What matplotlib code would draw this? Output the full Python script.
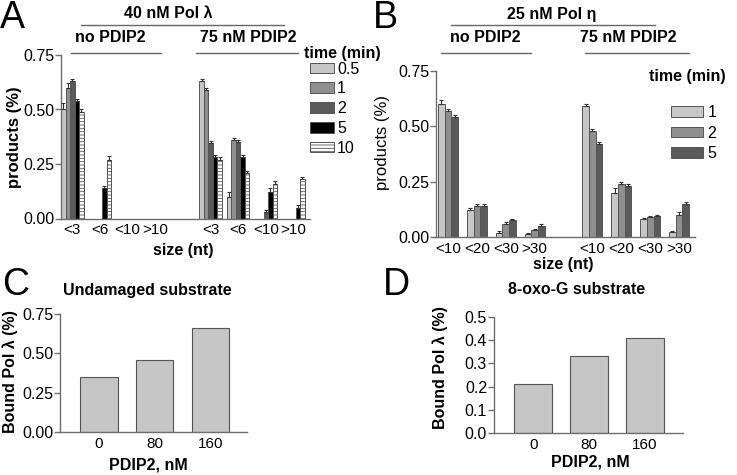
import numpy as np
import matplotlib

matplotlib.use("Agg")
import matplotlib.pyplot as plt
from matplotlib.lines import Line2D

plt.rcParams["font.family"] = ["Liberation Sans", "DejaVu Sans"]
plt.rcParams["hatch.linewidth"] = 0.6

W, H = 737, 475

# --- panel A: 40 nM Pol lambda, products per size class ---
a_times = ["0.5", "1", "2", "5", "10"]
a_sizes = ["<3", "<6", "<10", ">10", "<3", "<6", "<10", ">10"]
a_t05 = [0.50, 0, 0, 0, 0.63, 0.10, 0, 0]
a_t1 = [0.60, 0, 0, 0, 0.59, 0.36, 0, 0]
a_t2 = [0.63, 0, 0, 0, 0.345, 0.35, 0.03, 0]
a_t5 = [0.54, 0.14, 0, 0, 0.28, 0.28, 0.12, 0.05]
a_t10 = [0.49, 0.27, 0, 0, 0.27, 0.21, 0.16, 0.18]
a_e05 = [0.03, 0, 0, 0, 0.01, 0.02, 0, 0]
a_e1 = [0.02, 0, 0, 0, 0.01, 0.01, 0, 0]
a_e2 = [0.01, 0, 0, 0, 0.01, 0.01, 0.01, 0]
a_e5 = [0.01, 0.01, 0, 0, 0.01, 0.01, 0.02, 0.01]
a_e10 = [0.01, 0.015, 0, 0, 0.01, 0.01, 0.01, 0.01]

# --- panel B: 25 nM Pol eta ---
b_times = ["1", "2", "5"]
b_sizes = ["<10", "<20", "<30", ">30", "<10", "<20", "<30", ">30"]
b_t1 = [0.60, 0.12, 0.02, 0.015, 0.59, 0.20, 0.08, 0.023]
b_t2 = [0.57, 0.14, 0.06, 0.03, 0.48, 0.24, 0.09, 0.10]
b_t5 = [0.54, 0.14, 0.075, 0.048, 0.42, 0.23, 0.095, 0.15]
b_e1 = [0.02, 0.01, 0.005, 0.005, 0.01, 0.02, 0.005, 0.005]
b_e2 = [0.01, 0.01, 0.01, 0.005, 0.01, 0.01, 0.005, 0.015]
b_e5 = [0.01, 0.01, 0.005, 0.01, 0.01, 0.01, 0.005, 0.01]

# --- panels C/D: bound Pol lambda vs PDIP2 ---
pdip2_nm = ["0", "80", "160"]
c_bound = [0.35, 0.46, 0.66]
d_bound = [0.21, 0.33, 0.41]

group_pos = np.array([0, 1, 2, 3, 5, 6, 7, 8])

EDGE = "#555555"
SPINE = "#6e6e6e"


def add_axes_px(fig, left, top, right, bottom):
    return fig.add_axes([left / W, 1 - bottom / H, (right - left) / W, (bottom - top) / H])


def ftext(fig, x, y, s, **kw):
    fig.text(x / W, 1 - y / H, s, **kw)


def hline_px(fig, x0, x1, y):
    fig.add_artist(Line2D([x0 / W, x1 / W], [1 - y / H, 1 - y / H],
                          transform=fig.transFigure, color="#666666", lw=1.0))


def style_axes(ax):
    for side in ["top", "right"]:
        ax.spines[side].set_visible(False)
    for side in ["left", "bottom"]:
        ax.spines[side].set_color(SPINE)
        ax.spines[side].set_linewidth(1.0)
    ax.tick_params(axis="y", length=4, width=1, color=SPINE, pad=1, labelsize=11.5)
    ax.tick_params(axis="x", length=0, pad=3.5, labelsize=11)


def grouped_bars(ax, series, errors, colors, hatches, width):
    n = len(series)
    handles = []
    for i, (vals, errs) in enumerate(zip(series, errors)):
        vals = np.array(vals)
        errs = np.array(errs)
        x = group_pos + (i - (n - 1) / 2) * width
        mask = vals > 0
        h = ax.bar(x[mask], vals[mask], width, color=colors[i], edgecolor=EDGE,
                   linewidth=0.7, hatch=hatches[i], zorder=2)
        ax.errorbar(x[mask], vals[mask], yerr=[np.zeros(mask.sum()), errs[mask]],
                    fmt="none", ecolor="#333333", elinewidth=0.8, capsize=1.5,
                    capthick=0.8, zorder=3)
        handles.append(h)
    return handles


def main():
    fig = plt.figure(figsize=(W / 100, H / 100), dpi=100)

    # ---------------- A ----------------
    ax = add_axes_px(fig, 61, 55, 310, 218.5)
    style_axes(ax)
    h_a = grouped_bars(ax, [a_t05, a_t1, a_t2, a_t5, a_t10],
                       [a_e05, a_e1, a_e2, a_e5, a_e10],
                       ["#c6c6c6", "#8f8f8f", "#5a5a5a", "#000000", "#ffffff"],
                       [None, None, None, None, "-----"], 0.163)
    ax.set_xlim(-0.41, 8.6)
    ax.set_ylim(0, 0.75)
    ax.set_yticks([0, 0.25, 0.5, 0.75])
    ax.set_yticklabels(["0.00", "0.25", "0.50", "0.75"])
    ax.set_xticks(group_pos)
    ax.set_xticklabels(a_sizes)
    fig.legend(h_a, a_times, loc="upper left", bbox_to_anchor=(310 / W, 1 - 61.5 / H),
               frameon=False, fontsize=11.5, handlelength=1.5, handleheight=0.65,
               handletextpad=0.2, labelspacing=0.3, borderpad=0, borderaxespad=0)
    ftext(fig, 304, 53.5, "time (min)", fontsize=11.5, fontweight="bold", va="center")
    ftext(fig, 15, 137, "products (%)", fontsize=12, fontweight="bold",
          rotation=90, ha="center", va="center")
    ftext(fig, 183, 250, "size (nt)", fontsize=11.5, fontweight="bold",
          ha="center", va="center")
    ftext(fig, 168, 14, "40 nM Pol λ", fontsize=11.5, fontweight="bold",
          ha="center", va="center")
    hline_px(fig, 81, 284, 25)
    ftext(fig, 110, 37, "no PDIP2", fontsize=11.5, fontweight="bold",
          ha="center", va="center")
    hline_px(fig, 71, 161, 53)
    ftext(fig, 248, 37, "75 nM PDIP2", fontsize=11.5, fontweight="bold",
          ha="center", va="center")
    hline_px(fig, 196, 298, 53)
    ftext(fig, 0, 28, "A", fontsize=27, va="baseline")

    # ---------------- B ----------------
    ax = add_axes_px(fig, 436, 71, 695, 237)
    style_axes(ax)
    h_b = grouped_bars(ax, [b_t1, b_t2, b_t5], [b_e1, b_e2, b_e5],
                       ["#c6c6c6", "#8f8f8f", "#5a5a5a"], [None, None, None], 0.23)
    ax.set_xlim(-0.415, 8.55)
    ax.set_ylim(0, 0.75)
    ax.set_yticks([0, 0.25, 0.5, 0.75])
    ax.set_yticklabels(["0.00", "0.25", "0.50", "0.75"])
    ax.set_xticks(group_pos)
    ax.set_xticklabels(b_sizes)
    fig.legend(h_b, b_times, loc="upper left", bbox_to_anchor=(671 / W, 1 - 105 / H),
               frameon=False, fontsize=11.5, handlelength=2.0, handleheight=0.65,
               handletextpad=0.3, labelspacing=0.35, borderpad=0, borderaxespad=0)
    ftext(fig, 649, 77, "time (min)", fontsize=11.5, fontweight="bold", va="center")
    ftext(fig, 382, 142, "products (%)", fontsize=12, rotation=90,
          ha="center", va="center")
    ftext(fig, 563, 265, "size (nt)", fontsize=11.5, fontweight="bold",
          ha="center", va="center")
    ftext(fig, 552, 14, "25 nM Pol η", fontsize=11.5, fontweight="bold",
          ha="center", va="center")
    hline_px(fig, 451, 655, 25)
    ftext(fig, 485, 37, "no PDIP2", fontsize=11.5, fontweight="bold",
          ha="center", va="center")
    hline_px(fig, 441, 531, 53)
    ftext(fig, 628, 37, "75 nM PDIP2", fontsize=11.5, fontweight="bold",
          ha="center", va="center")
    hline_px(fig, 585, 689, 53)
    ftext(fig, 373, 28, "B", fontsize=27, va="baseline")

    # ---------------- C ----------------
    ax = add_axes_px(fig, 60, 314, 247, 432)
    style_axes(ax)
    ax.bar(np.arange(3), c_bound, 0.67, color="#c6c6c6", edgecolor=EDGE, linewidth=0.8)
    ax.set_xlim(-0.7, 2.66)
    ax.set_ylim(0, 0.75)
    ax.set_yticks([0, 0.25, 0.5, 0.75])
    ax.set_yticklabels(["0.00", "0.25", "0.50", "0.75"])
    ax.set_xticks(np.arange(3))
    ax.set_xticklabels(pdip2_nm)
    ftext(fig, 147, 290, "Undamaged substrate", fontsize=11.5, fontweight="bold",
          ha="center", va="center")
    ftext(fig, 148, 465, "PDIP2, nM", fontsize=11.5, fontweight="bold",
          ha="center", va="center")
    ftext(fig, 10, 372, "Bound Pol λ (%)", fontsize=11.5, fontweight="bold",
          rotation=90, ha="center", va="center")
    ftext(fig, 2, 295, "C", fontsize=27, va="baseline")

    # ---------------- D ----------------
    ax = add_axes_px(fig, 494, 317, 683, 433)
    style_axes(ax)
    ax.bar(np.arange(3), d_bound, 0.67, color="#c6c6c6", edgecolor=EDGE, linewidth=0.8)
    ax.set_xlim(-0.7, 2.68)
    ax.set_ylim(0, 0.5)
    ax.set_yticks(np.arange(0, 0.51, 0.1))
    ax.set_yticklabels(["0.0", "0.1", "0.2", "0.3", "0.4", "0.5"])
    ax.set_xticks(np.arange(3))
    ax.set_xticklabels(pdip2_nm)
    ftext(fig, 577, 290, "8-oxo-G substrate", fontsize=11.5, fontweight="bold",
          ha="center", va="center")
    ftext(fig, 590, 462, "PDIP2, nM", fontsize=11.5, fontweight="bold",
          ha="center", va="center")
    ftext(fig, 440, 368, "Bound Pol λ (%)", fontsize=11.5, fontweight="bold",
          rotation=90, ha="center", va="center")
    ftext(fig, 383, 295, "D", fontsize=27, va="baseline")

    fig.savefig("out.png", dpi=100)


if __name__ == "__main__":
    main()
